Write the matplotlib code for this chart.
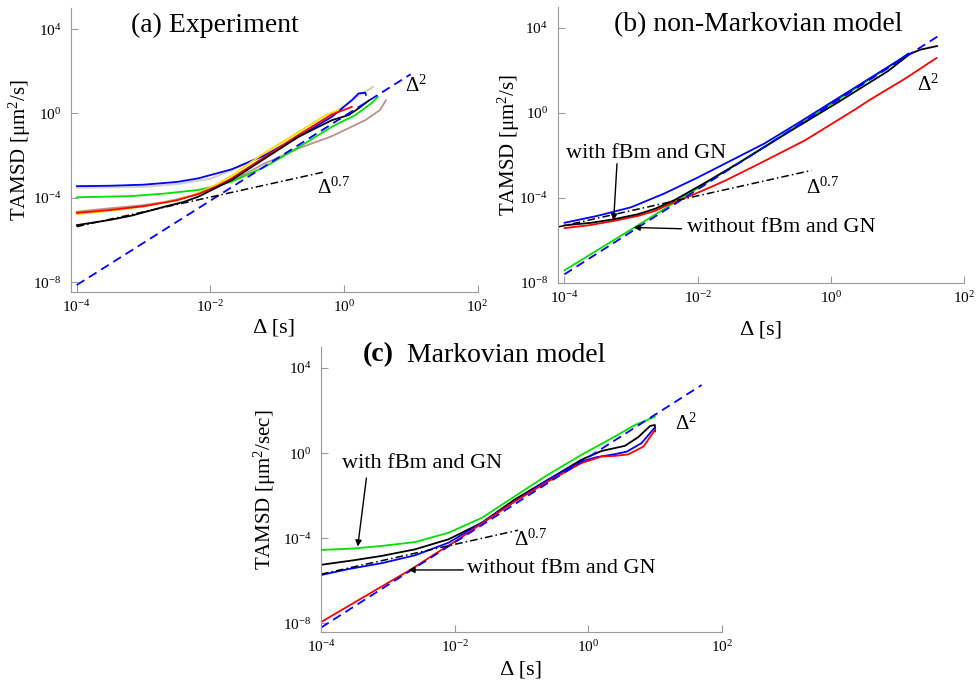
import numpy as np
import matplotlib
matplotlib.use('Agg')
import matplotlib.pyplot as plt

plt.rcParams['font.family'] = 'Liberation Serif'
plt.rcParams['mathtext.fontset'] = 'custom'
plt.rcParams['mathtext.rm'] = 'Liberation Serif'
plt.rcParams['mathtext.it'] = 'Liberation Serif:italic'
plt.rcParams['mathtext.bf'] = 'Liberation Serif:bold'

# all curve values are log10(lag [s]) / log10(TAMSD)

# (a) experiment
a_gray_x = [-4, -3.0, -2.5, -2.0, -1.68, -1.18, -0.68, -0.18, 0.2, 0.44]
a_gray_y = [-3.52, -3.48, -3.35, -3.1, -2.69, -1.95, -0.98, -0.05, 0.8, 1.26]
a_blue_x = [-4, -3.5, -3.0, -2.5, -2.18, -1.68, -1.18, -0.68, -0.18, 0.12, 0.22, 0.32, 0.33]
a_blue_y = [-3.45, -3.43, -3.38, -3.25, -3.08, -2.65, -1.98, -1.11, -0.16, 0.63, 0.95, 0.98, 0.87]
a_green_x = [-4, -3.18, -2.68, -2.18, -1.93, -1.68, -1.18, -0.68, -0.18, 0.17, 0.42, 0.51]
a_green_y = [-3.98, -3.92, -3.8, -3.63, -3.45, -3.24, -2.53, -1.61, -0.63, -0.08, 0.5, 0.79]
a_brown_x = [-4, -3.5, -3.0, -2.68, -2.18, -1.68, -1.18, -0.68, -0.18, 0.32, 0.54, 0.63]
a_brown_y = [-4.66, -4.5, -4.35, -4.2, -3.82, -3.19, -2.37, -1.66, -1.08, -0.32, 0.16, 0.63]
a_red_x = [-4, -3.5, -3.0, -2.5, -2.18, -1.9, -1.68, -1.18, -0.68, -0.18, 0.12]
a_red_y = [-4.72, -4.58, -4.4, -4.12, -3.82, -3.45, -3.08, -2.05, -1.03, -0.05, 0.31]
a_yellow_x = [-4, -3.5, -3.0, -2.5, -2.18, -1.9, -1.68, -1.18, -0.68, -0.28, -0.08]
a_yellow_y = [-4.78, -4.62, -4.42, -4.1, -3.78, -3.35, -2.95, -1.85, -0.88, -0.1, 0.16]
a_black_x = [-4, -3.5, -3.18, -2.68, -2.4, -2.18, -1.68, -1.18, -0.68, -0.18, 0.07, 0.22, 0.38]
a_black_y = [-5.3, -5.05, -4.85, -4.42, -4.2, -3.95, -3.16, -2.13, -1.11, -0.32, -0.08, 0.24, 0.63]

# (b) non-Markovian model
b_green_x = [-4, -3.0, -2.0, -1.0, 0.0, 1.17]
b_green_y = [-7.42, -5.5, -3.55, -1.6, 0.4, 2.78]
b_blue_x = [-4, -3.5, -3.0, -2.5, -2.0, -1.5, -1.0, -0.5, 0.0, 0.5, 1.0, 1.17]
b_blue_y = [-5.18, -4.85, -4.45, -3.8, -3.05, -2.25, -1.45, -0.5, 0.48, 1.46, 2.44, 2.8]
b_black_x = [-4, -3.6, -3.27, -2.9, -2.64, -2.34, -1.89, -1.39, -0.64, 0.11, 0.86, 1.19, 1.35, 1.6]
b_black_y = [-5.3, -5.18, -5.02, -4.78, -4.52, -4.1, -3.3, -2.38, -0.92, 0.5, 1.97, 2.78, 2.98, 3.15]
b_red_x = [-4, -3.64, -3.27, -2.89, -2.64, -2.44, -2.14, -1.84, -1.59, -1.14, -0.39, 0.36, 0.59, 1.12, 1.59]
b_red_y = [-5.43, -5.3, -5.1, -4.85, -4.62, -4.32, -3.95, -3.55, -3.2, -2.5, -1.3, 0.15, 0.62, 1.62, 2.59]

# (c) Markovian model
c_green_x = [-4, -3.5, -3.09, -2.59, -2.09, -1.59, -1.1, -0.6, -0.1, 0.4, 0.7, 1.0]
c_green_y = [-4.55, -4.48, -4.36, -4.18, -3.74, -3.04, -2.03, -1.01, -0.08, 0.78, 1.32, 1.71]
c_black_x = [-4, -3.5, -3.09, -2.59, -2.09, -1.59, -1.1, -0.6, -0.1, 0.2, 0.55, 0.75, 0.93, 1.0, 1.0]
c_black_y = [-5.25, -5.03, -4.83, -4.52, -4.05, -3.27, -2.18, -1.25, -0.31, 0.1, 0.34, 0.75, 1.28, 1.32, 1.01]
c_blue_x = [-4, -3.59, -3.09, -2.59, -2.09, -1.59, -1.1, -0.6, -0.1, 0.13, 0.4, 0.58, 0.8, 1.0]
c_blue_y = [-5.73, -5.45, -5.17, -4.8, -4.21, -3.27, -2.26, -1.25, -0.39, -0.19, -0.05, 0.07, 0.47, 1.21]
c_red_x = [-4, -3.5, -3.0, -2.67, -2.3, -1.98, -1.59, -1.1, -0.6, -0.1, 0.2, 0.4, 0.6, 0.83, 1.0]
c_red_y = [-7.94, -7.02, -6.1, -5.5, -4.75, -4.13, -3.3, -2.28, -1.33, -0.47, -0.16, -0.13, -0.06, 0.31, 1.09]

# power-law guides: (log10 prefactor, exponent, log10 x start, log10 x end)
a_slope2 = (-0.14, 2, -4, 1.0)
a_slope07 = (-2.57, 0.7, -4, -0.31)
b_slope2 = (0.39, 2, -4, 1.67)
b_slope07 = (-2.51, 0.7, -4.1, -0.29)
c_slope2 = (-0.2, 2, -4, 1.7)
c_slope07 = (-2.89, 0.7, -4, -1.05)

W, H = 979, 682
fig = plt.figure(figsize=(W / 100, H / 100), dpi=100)

axis_grey = '#9a9a9a'


def make_axes(left, top, right, bottom, xlo, ylo, ylabel, ylab_x, xlab_y):
    ax = fig.add_axes([left / W, 1 - bottom / H, (right - left) / W, (bottom - top) / H])
    ax.set_xscale('log')
    ax.set_yscale('log')
    ax.set_xlim(10 ** xlo, 1e2)
    ax.set_ylim(10 ** ylo, 1e5)
    ax.set_xticks([1e-4, 1e-2, 1e0, 1e2])
    ax.set_yticks([1e-8, 1e-4, 1e0, 1e4])
    ax.minorticks_off()
    ax.spines['top'].set_visible(False)
    ax.spines['right'].set_visible(False)
    ax.spines['left'].set_color(axis_grey)
    ax.spines['bottom'].set_color(axis_grey)
    ax.tick_params(direction='in', length=5, color=axis_grey, labelsize=11)
    ax.tick_params(axis='y', pad=7)
    ax.tick_params(axis='x', pad=5)
    ax.set_ylabel(ylabel, fontsize=15)
    ax.yaxis.set_label_coords(ylab_x, 0.5)
    ax.set_xlabel('Δ [s]', fontsize=16)
    ax.xaxis.set_label_coords(0.5, xlab_y)
    return ax


def curve(ax, lx, ly, color, lw=1.3):
    ax.plot(10 ** np.array(lx), 10 ** np.array(ly), color=color, lw=lw, solid_capstyle='round')


def guide(ax, g, style):
    c, p, lo, hi = g
    x = 10 ** np.array([lo, hi])
    y = 10 ** c * x ** p
    if style == 'dash':
        ax.plot(x, y, color='#0000ff', lw=1.3, dashes=(5, 3))
    else:
        ax.plot(x, y, color='k', lw=1.1, dashes=(5, 2, 1, 2))


def label(ax, lx, ly, text, size=15):
    ax.text(10 ** lx, 10 ** ly, text, fontsize=size, ha='left', va='baseline')


def arrow(ax, tail, tip):
    ax.annotate('', xy=(10 ** tip[0], 10 ** tip[1]), xytext=(10 ** tail[0], 10 ** tail[1]),
                arrowprops=dict(arrowstyle='-|>', color='k', lw=1.0, mutation_scale=9,
                                shrinkA=0, shrinkB=0))


# (a)
ax = make_axes(71, 8, 477.5, 292, -4.085, -8.47, 'TAMSD [μm$^2$/s]', -0.094, -0.092)
curve(ax, a_gray_x, a_gray_y, '#d2d2d2', lw=1.6)
curve(ax, a_brown_x, a_brown_y, '#bc8f8f')
curve(ax, a_green_x, a_green_y, '#00e000')
curve(ax, a_blue_x, a_blue_y, '#0000ff')
curve(ax, a_yellow_x, a_yellow_y, '#ffdd00')
curve(ax, a_red_x, a_red_y, '#ff0000')
curve(ax, a_black_x, a_black_y, 'k')
guide(ax, a_slope2, 'dash')
guide(ax, a_slope07, 'dashdot')
label(ax, 0.91, 1.01, 'Δ$^2$')
label(ax, -0.41, -3.79, 'Δ$^{0.7}$')

# (b)
ax = make_axes(557.7, 6.7, 964, 283.3, -4.1, -8.03, 'TAMSD [μm$^2$/s]', -0.089, -0.133)
curve(ax, b_green_x, b_green_y, '#00e000')
curve(ax, b_blue_x, b_blue_y, '#0000ff')
curve(ax, b_red_x, b_red_y, '#ff0000')
curve(ax, b_black_x, b_black_y, 'k')
guide(ax, b_slope2, 'dash')
guide(ax, b_slope07, 'dashdot')
label(ax, 1.29, 1.05, 'Δ$^2$')
label(ax, -0.37, -3.81, 'Δ$^{0.7}$')
ax.text(10 ** -3.97, 10 ** -1.92, 'with fBm and GN', fontsize=16, ha='left', va='center')
arrow(ax, (-3.21, -2.4), (-3.26, -5.07))
ax.text(10 ** -2.16, 10 ** -5.38, 'without fBm and GN', fontsize=16, ha='left', va='center')
arrow(ax, (-2.24, -5.46), (-2.96, -5.4))

# (c)
ax = make_axes(321, 346.7, 721.7, 632.3, -4.0, -8.42, 'TAMSD [μm$^2$/sec]', -0.107, -0.097)
curve(ax, c_green_x, c_green_y, '#00e000')
curve(ax, c_black_x, c_black_y, 'k')
curve(ax, c_blue_x, c_blue_y, '#0000ff')
curve(ax, c_red_x, c_red_y, '#ff0000')
guide(ax, c_slope2, 'dash')
guide(ax, c_slope07, 'dashdot')
label(ax, 1.30, 1.09, 'Δ$^2$')
label(ax, -1.11, -4.36, 'Δ$^{0.7}$')
ax.text(10 ** -3.69, 10 ** -0.47, 'with fBm and GN', fontsize=16, ha='left', va='center')
arrow(ax, (-3.32, -1.17), (-3.45, -4.39))
ax.text(10 ** -1.82, 10 ** -5.42, 'without fBm and GN', fontsize=16, ha='left', va='center')
arrow(ax, (-1.87, -5.49), (-2.69, -5.49))

# panel titles
fig.text(215 / W, 1 - 25 / H, '(a) Experiment', fontsize=20, ha='center', va='center')
fig.text(758.5 / W, 1 - 25 / H, '(b) non-Markovian model', fontsize=20, ha='center', va='center')
fig.text(363 / W, 1 - 355 / H, '(c)', fontsize=20, fontweight='bold', ha='left', va='center')
fig.text(407 / W, 1 - 355 / H, 'Markovian model', fontsize=20, ha='left', va='center')

fig.savefig('out.png', dpi=100)
